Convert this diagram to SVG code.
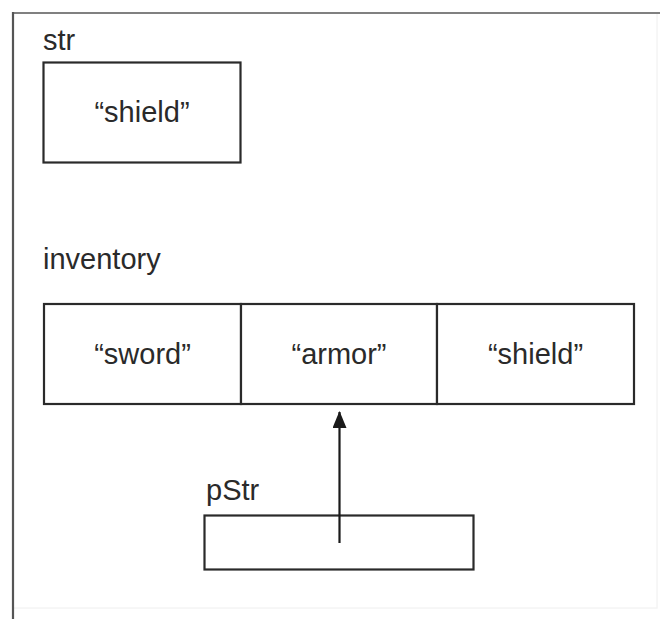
<svg xmlns="http://www.w3.org/2000/svg" width="663" height="619" viewBox="0 0 663 619">
<style>
.box{fill:#fff;stroke:#2a2a2a;stroke-width:2.2}
.lbl{font-family:"Liberation Sans",Arial,sans-serif;font-size:29px;fill:#2a2a2a}
.val{font-family:"Liberation Sans",Arial,sans-serif;font-size:29px;fill:#2a2a2a;text-anchor:middle}
.conn{stroke:#1a1a1a;stroke-width:2.2;fill:none}
</style>
<defs>
<marker id="arrow" viewBox="0 0 17 14" refX="16" refY="7" markerWidth="17" markerHeight="14" markerUnits="userSpaceOnUse" orient="auto">
<path d="M0,0 L17,7 L0,14 z" fill="#1a1a1a"/>
</marker>
</defs>
<rect width="663" height="619" fill="#fff"/>
<g id="frame">
<rect x="13" y="13" width="644" height="595" fill="none" stroke="#f4f4f4" stroke-width="1.5"/>
<line x1="13" y1="13" x2="660" y2="13" stroke="#808080" stroke-width="2.2"/>
<line x1="13" y1="12" x2="13" y2="619" stroke="#555" stroke-width="2.2"/>
</g>
<g id="str">
<text class="lbl" x="43" y="50">str</text>
<rect class="box" x="43.5" y="62.5" width="197" height="100"/>
<text class="val" x="142" y="122">“shield”</text>
</g>
<g id="inventory">
<text class="lbl" x="43" y="269">inventory</text>
<g id="inventory0">
<rect class="box" x="44" y="304" width="197" height="100"/>
<text class="val" x="142.5" y="364">“sword”</text>
</g>
<g id="inventory1">
<rect class="box" x="241" y="304" width="196" height="100"/>
<text class="val" x="339" y="364">“armor”</text>
</g>
<g id="inventory2">
<rect class="box" x="437" y="304" width="197" height="100"/>
<text class="val" x="535.5" y="364">“shield”</text>
</g>
</g>
<g id="pStr">
<text class="lbl" x="206" y="500">pStr</text>
<rect class="box" x="204.5" y="515.5" width="269" height="54"/>
</g>
<g id="connectors">
<line class="conn" x1="339.5" y1="543" x2="339.5" y2="412" marker-end="url(#arrow)"/>
</g>
</svg>
